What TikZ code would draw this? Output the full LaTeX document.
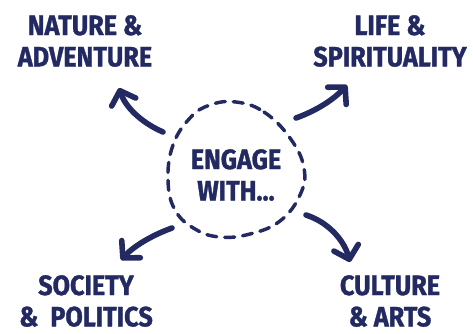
\documentclass[tikz,border=0pt]{standalone}
\usepackage{fontspec}
\newfontfamily\headfont[FakeStretch=0.9,BoldFeatures={FakeBold=1.2}]{Fira Sans}
\usetikzlibrary{arrows.meta}
\definecolor{navy}{HTML}{232A62}

\begin{document}
\begin{tikzpicture}[x=0.75pt,y=-0.75pt,
  every node/.style={text=navy,align=center,inner sep=0pt,
    font=\headfont\bfseries\fontsize{21}{23.5}\selectfont},
  arr/.style={navy,line width=4.2pt,line cap=round,
    -{Straight Barb[round,length=9pt,width=19pt]}},
  blob/.style={navy,line width=2.6pt,line cap=round,dash pattern=on 7.5pt off 6pt}]
\useasboundingbox (0,0) rectangle (473,333);
% topics
\node (nature) at (85,41) {NATURE \&\\ADVENTURE};
\node (life) at (390,41) {LIFE \&\\SPIRITUALITY};
\node (society) at (86,301) {SOCIETY\\\& \ POLITICS};
\node (culture) at (390,301) {CULTURE\\\& ARTS};
\node (engage) at (236,175) {ENGAGE\\WITH...};
% dashed outline round the middle
\draw[blob] plot[smooth cycle,tension=0.7] coordinates {(236,102) (264,112) (290,138) (304,168) (300,195)
  (280,221) (250,234) (220,237) (195,229) (175,210) (168,180) (173,145) (190,118) (210,105)};
% arrow ends
\coordinate (nw-out) at (163,132);
\coordinate (nw-in) at (119,88);
\coordinate (ne-out) at (296,118);
\coordinate (ne-in) at (347,85);
\coordinate (sw-out) at (172,228);
\coordinate (sw-in) at (121,260);
\coordinate (se-out) at (306,215);
\coordinate (se-in) at (350,262);
\draw[arr] (nw-out) .. controls (140,122) and (125,106) .. (nw-in);
\draw[arr] (ne-out) .. controls (318,110) and (334,99) .. (ne-in);
\draw[arr] (sw-out) .. controls (150,236) and (133,247) .. (sw-in);
\draw[arr] (se-out) .. controls (328,222) and (344,240) .. (se-in);
\end{tikzpicture}
\end{document}
